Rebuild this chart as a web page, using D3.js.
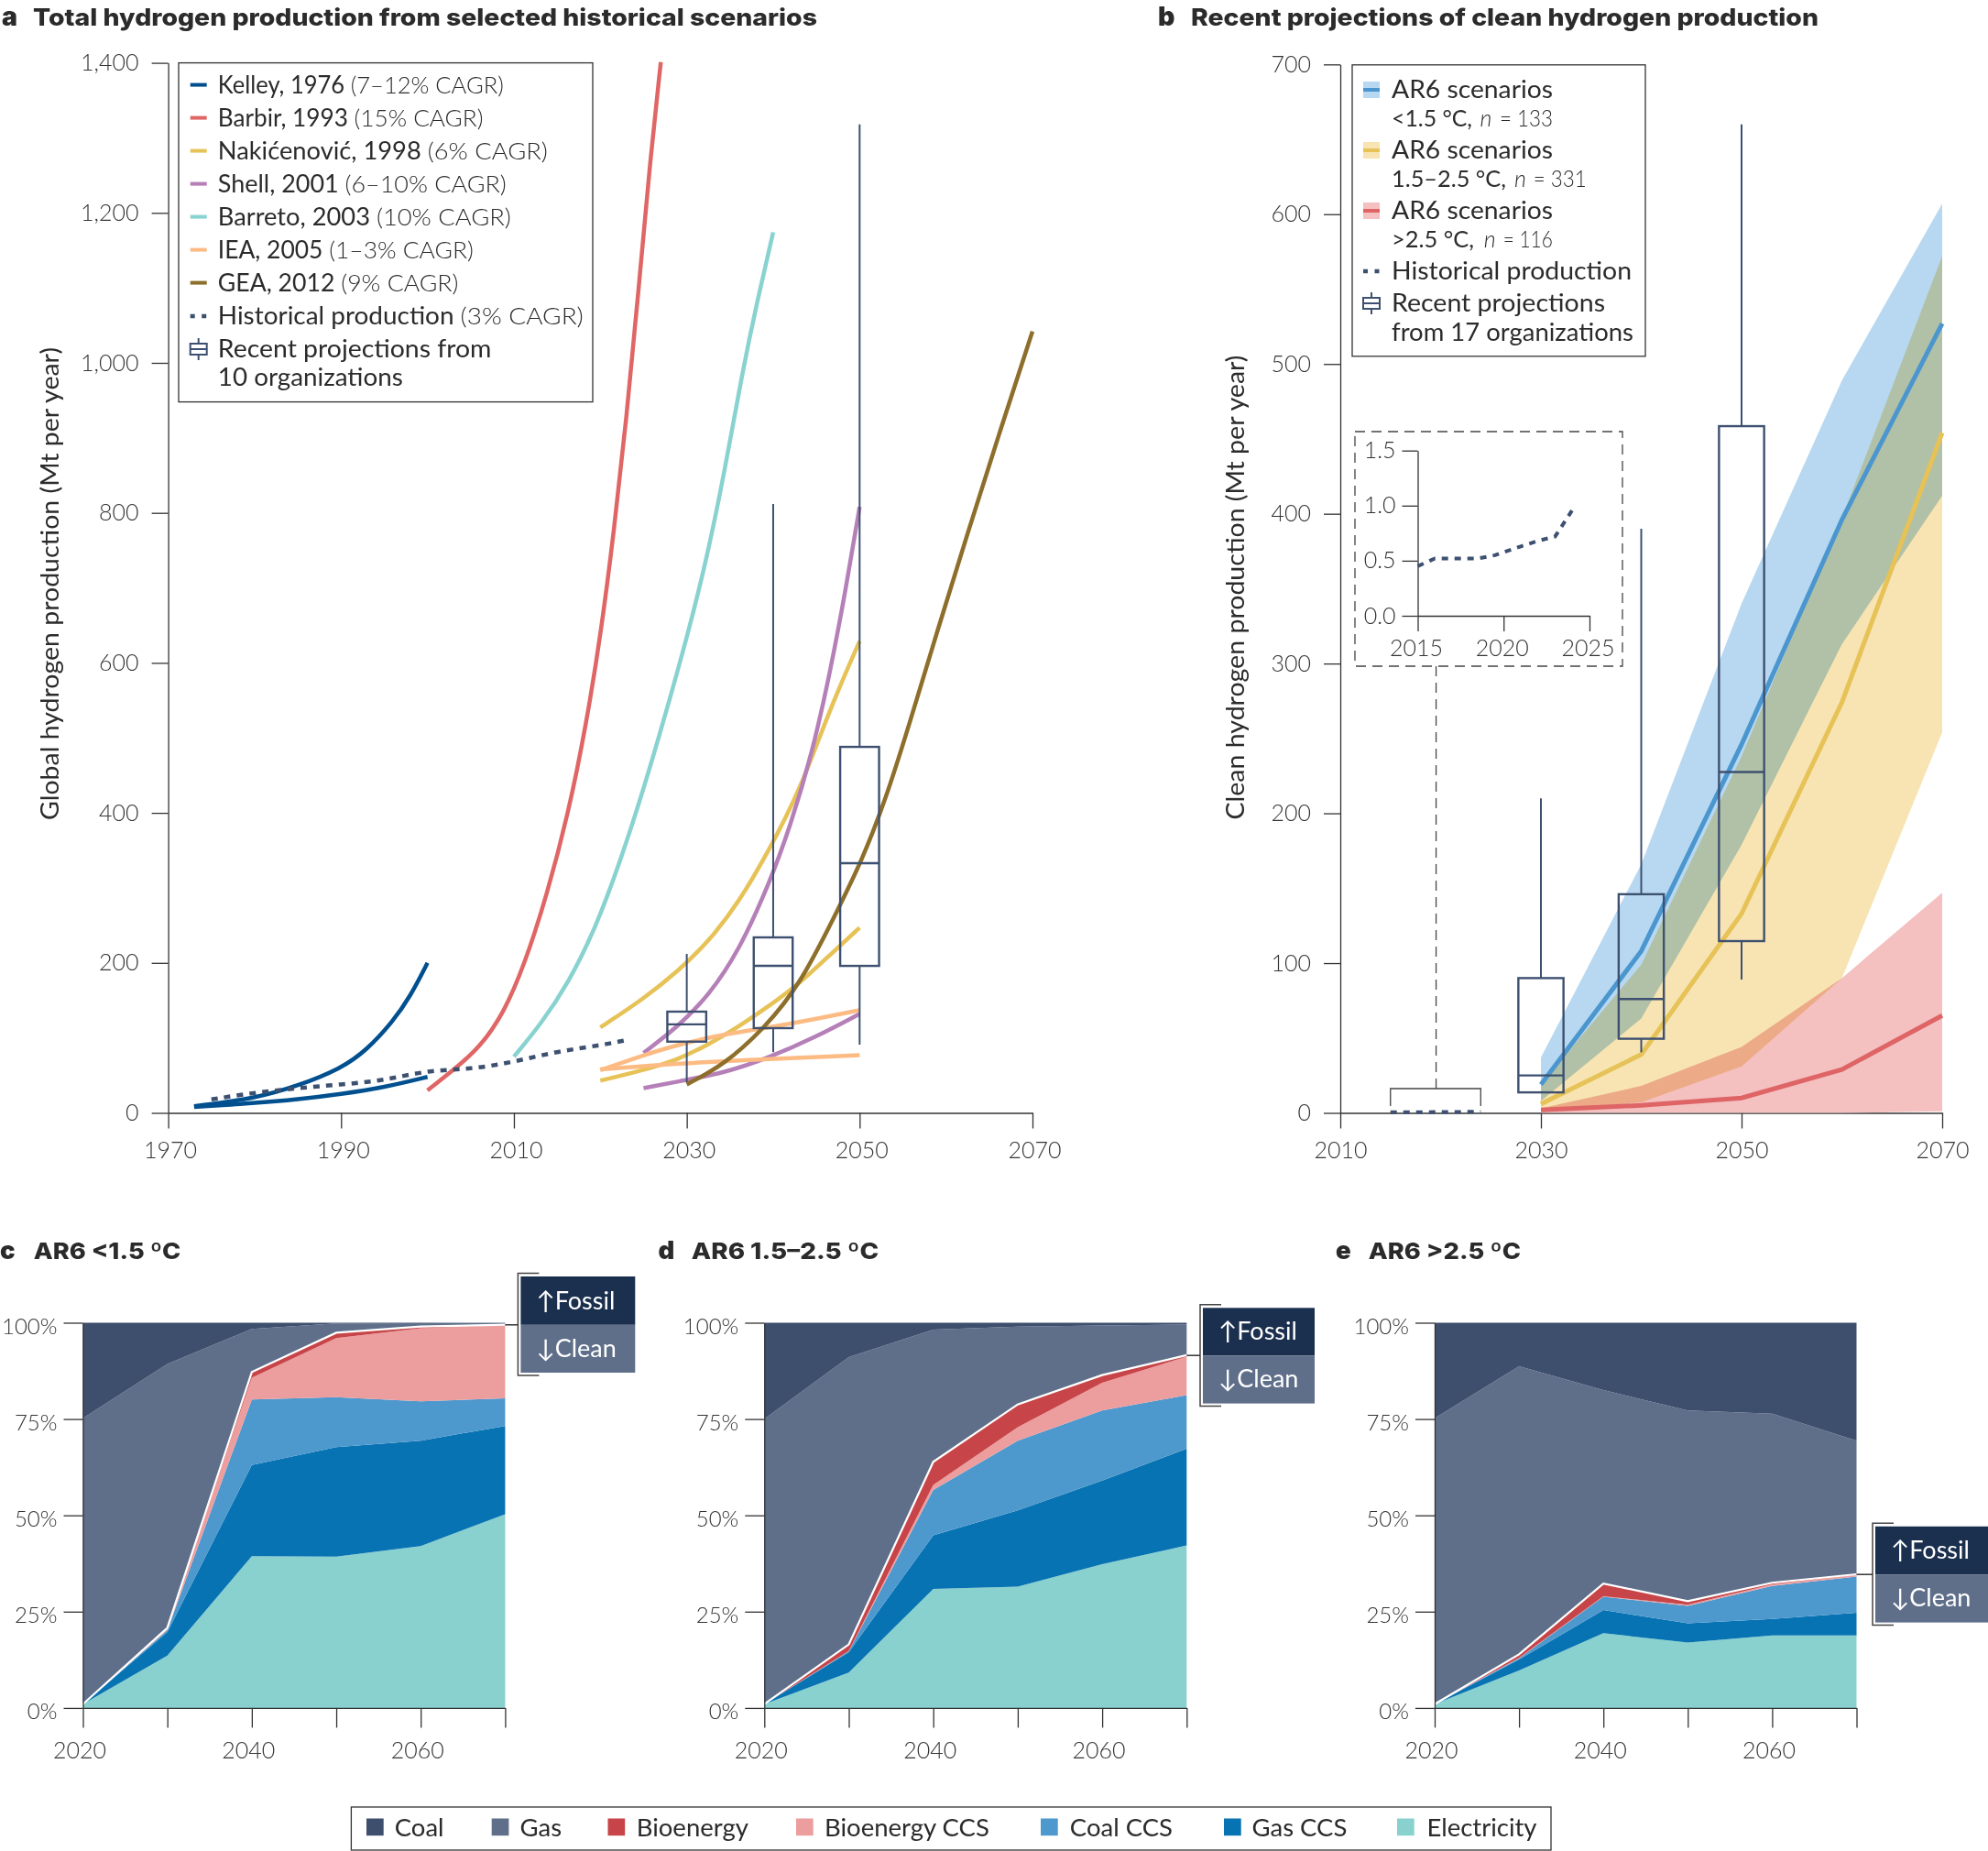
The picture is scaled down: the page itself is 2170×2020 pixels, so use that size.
<!DOCTYPE html>
<html lang="en">
<head>
<meta charset="utf-8">
<title>Hydrogen production scenarios</title>
<script src="https://d3js.org/d3.v7.min.js"></script>
<style>
  html, body { margin: 0; padding: 0; background: #fff; }
  svg { display: block; }
  text { font-family: Lato, "Noto Sans", sans-serif; fill: #2b2b2b; }
  .tick text { font-weight: 300; font-size: 25px; fill: #333; }
  .tick line, .domain { stroke: #333; stroke-width: 1.3; }
  .title { font-family: Inter, sans-serif; font-weight: 800; }
</style>
</head>
<body>
<script>
// panel a, [year, Mt per year]
var kelleyHigh = [[1973,9],[1980,19],[1985,36],[1990,59],[1993,84],[1996,122],[1998,155],[2000,200]];
var kelleyLow = [[1973,8],[1980,13],[1985,18],[1990,25],[1995,34],[2000,48]];
var barbir = [[2000,30],[2003.5,62],[2006,87],[2008.8,132],[2011.3,200],[2013.8,290],[2016.3,399],[2018.4,520],[2020.1,642],[2021.6,778],[2023,923],[2024.4,1094],[2025.8,1275],[2027,1401]];
var nakHigh = [[2020,114],[2025,152],[2029,189],[2032.5,228],[2036,280],[2039.6,352],[2043.1,430],[2046.6,540],[2050,629]];
var nakLow = [[2020,43],[2025,57],[2029,71],[2032.5,91],[2036,115],[2039.6,143],[2043.1,173],[2046.6,211],[2050,247]];
var shellHigh = [[2025,80],[2029,115],[2032.5,156],[2036,215],[2039.6,307],[2042,383],[2044.5,479],[2046.6,588],[2048.4,698],[2050,808]];
var shellLow = [[2025,33],[2029,42],[2034.3,53],[2039.6,74],[2044.9,101],[2050,132]];
var barreto = [[2010,75],[2013.1,118],[2016.3,173],[2019.4,245],[2022.3,335],[2025.1,435],[2027.6,534],[2030,633],[2032.2,733],[2034.3,850],[2036.4,986],[2038.2,1085],[2040,1174]];
var ieaHigh = [[2020,57],[2025,77],[2029,91],[2034.3,105],[2039.6,114],[2044.9,125],[2050,137]];
var ieaLow = [[2020,58],[2029,66],[2039.6,72],[2050,77]];
var gea = [[2030,38],[2034.3,64],[2038.9,112],[2043.1,170],[2047.7,276],[2050.2,335],[2053,417],[2055.8,520],[2059,643],[2062.5,773],[2066.1,904],[2070,1042]];
var historical = [[1975,18],[1980,27],[1985,33],[1990,38],[1995,43],[2000,57],[2005,58],[2010,68],[2015,82],[2020,90],[2023,97]];
// year, whisker low, q1, median, q3, whisker high
var boxesA = [[2030,41,95,118,135,212],[2040,81,113,196,234,812],[2050,91,196,333,488,1318]];

// panel b
var bandYears = [2030,2040,2050,2060,2070];
var blueUpper = [37,166,340,489,607];
var blueLower = [8,63,179,313,412];
var blueMedian = [19,108,246,396,527];
var yellowUpper = [19,99,238,397,572];
var yellowLower = [2,7,31,90,254];
var yellowMedian = [6,39,133,274,454];
var redUpper = [3,18,44,90,147];
var redLower = [0,0,0,0,1];
var redMedian = [2,5,10,29,65];
var boxesB = [[2030,13.7,13.7,25,90,210],[2040,40.5,49.5,76,146,390],[2050,89,114.7,227.6,458.5,660]];
var recentYears = [2015,2016,2018.5,2019.5,2021,2022,2023,2024];
var recentValues = [0.45,0.52,0.52,0.55,0.63,0.68,0.72,0.96];

// panels c, d, e: share of production, bottom layer first
var stackYears = [2020,2030,2040,2050,2060,2070];
var techs = ["Electricity","Gas CCS","Coal CCS","Bioenergy CCS","Bioenergy","Gas","Coal"];
var cShares = [
  [1,13.6,39.4,39.3,42,50.3],
  [0,6.1,23.7,28.4,27.4,22.9],
  [0,0.5,17,13,10.2,7.2],
  [0,0.5,5.6,15.3,19,18.9],
  [0,0.1,1.5,1.4,0.4,0.2],
  [74.2,68.5,11.2,2.4,0.9,0.5],
  [24.8,10.7,1.6,0.2,0.1,0]];
var dShares = [
  [1,9.2,30.9,31.5,37.3,42.2],
  [0,5.3,13.9,19.8,21.7,25.1],
  [0,0.2,11.8,18.1,18.2,13.9],
  [0,0.1,1.3,3.5,7.2,10],
  [0,1.7,6,5.9,2,0.4],
  [74,74.6,34.3,20.2,12.9,7.9],
  [25,8.9,1.8,1,0.7,0.5]];
var eShares = [
  [1,9.7,19.4,17,18.8,18.8],
  [0,2.9,6,5,4.3,5.9],
  [0,0.3,3.5,4.5,8.6,9.4],
  [0,0.1,0.1,0.3,0.4,0.4],
  [0,0.9,3.3,0.9,0.4,0.2],
  [74.2,74.8,50.2,49.5,43.9,34.7],
  [24.8,11.3,17.5,22.8,23.6,30.6]];

var techColors = {"Coal":"#3e4f6d","Gas":"#5f6f8a","Bioenergy":"#c74548","Bioenergy CCS":"#ec9d9e","Coal CCS":"#4d98cd","Gas CCS":"#0873b3","Electricity":"#88d1cf"};
var dark = "#3e5070";

var svg = d3.select("body").append("svg").attr("width", 2170).attr("height", 2020);

function addText(x, y, str, size, weight, anchor) {
  return svg.append("text").attr("x", x).attr("y", y).text(str)
    .attr("font-size", size).attr("font-weight", weight || 400).attr("text-anchor", anchor || "start");
}
function fit(sel, len) {
  return sel.attr("textLength", len).attr("lengthAdjust", "spacingAndGlyphs");
}
function title(letter, lx, tx, tw, y, str, size) {
  addText(lx, y, letter, size + 2.5).attr("class", "title").style("font-weight", 900);
  fit(addText(tx, y, str, size).attr("class", "title"), tw);
}
function yLabel(x, cy, len, str) {
  fit(svg.append("text").attr("transform", "translate(" + x + "," + cy + ") rotate(-90)")
    .attr("text-anchor", "middle").attr("font-size", 26).text(str), len);
}
function drawBoxes(data, x, y) {
  var g = svg.append("g").attr("stroke", dark).attr("fill", "none");
  data.forEach(function(b) {
    g.append("line").attr("x1", x(b[0])).attr("x2", x(b[0])).attr("y1", y(b[4])).attr("y2", y(b[5])).attr("stroke-width", 2);
    g.append("line").attr("x1", x(b[0])).attr("x2", x(b[0])).attr("y1", y(b[2])).attr("y2", y(b[1])).attr("stroke-width", 2);
    g.append("rect").attr("x", x(b[0] - 2.25)).attr("width", x(b[0] + 2.25) - x(b[0] - 2.25))
      .attr("y", y(b[4])).attr("height", y(b[2]) - y(b[4])).attr("stroke-width", 2.4);
    g.append("line").attr("x1", x(b[0] - 2.25)).attr("x2", x(b[0] + 2.25)).attr("y1", y(b[3])).attr("y2", y(b[3])).attr("stroke-width", 2.4);
  });
}
function boxSwatch(cx, cy) {
  var g = svg.append("g").attr("stroke", dark).attr("fill", "none").attr("stroke-width", 2);
  g.append("line").attr("x1", cx).attr("x2", cx).attr("y1", cy - 12).attr("y2", cy + 12);
  g.append("rect").attr("x", cx - 9).attr("y", cy - 6).attr("width", 18).attr("height", 12).attr("fill", "#fff");
  g.append("line").attr("x1", cx - 9).attr("x2", cx + 9).attr("y1", cy).attr("y2", cy);
}

// ---------- panel a
title("a", 2, 36, 856, 28, "Total hydrogen production from selected historical scenarios", 26);
yLabel(64, 637, 516, "Global hydrogen production (Mt per year)");

var xA = d3.scaleLinear().domain([1970, 2070]).range([183.6, 1127]);
var yA = d3.scaleLinear().domain([0, 1400]).range([1214.5, 68.6]);
var lineA = d3.line().x(function(d) { return xA(d[0]); }).y(function(d) { return yA(d[1]); }).curve(d3.curveBasis);

svg.append("g").attr("transform", "translate(183.6,0)")
  .call(d3.axisLeft(yA).tickValues(d3.range(0, 1401, 200)).tickSize(18).tickPadding(14).tickSizeOuter(0).tickFormat(d3.format(",")));
var xgA = svg.append("g").attr("transform", "translate(0,1214.5)")
  .call(d3.axisBottom(xA).tickValues(d3.range(1970, 2071, 20)).tickSize(17).tickPadding(15).tickSizeOuter(0).tickFormat(d3.format("d")));
xgA.selectAll(".tick text").attr("dx", 2);

var linesA = [
  [kelleyHigh,"#004f8f"],[kelleyLow,"#004f8f"],[barbir,"#e06666"],[nakHigh,"#e6c257"],[nakLow,"#e6c257"],
  [shellHigh,"#b57fb8"],[shellLow,"#b57fb8"],[barreto,"#88d2cf"],[ieaHigh,"#fdbb84"],[ieaLow,"#fdbb84"],[gea,"#8d6e2b"]];
linesA.forEach(function(l) {
  svg.append("path").attr("d", lineA(l[0])).attr("fill", "none").attr("stroke", l[1]).attr("stroke-width", 4.5);
});
svg.append("path").attr("d", lineA(historical)).attr("fill", "none").attr("stroke", dark).attr("stroke-width", 4.5).attr("stroke-dasharray", "7 7");
drawBoxes(boxesA, xA, yA);

svg.append("rect").attr("x", 195).attr("y", 68.6).attr("width", 452).attr("height", 370).attr("fill", "#fff").attr("stroke", "#333").attr("stroke-width", 1.3);
var legendA = [
  ["Kelley, 1976", "(7–12% CAGR)", "#004f8f", 312],
  ["Barbir, 1993", "(15% CAGR)", "#e06666", 289.7],
  ["Nakićenović, 1998", "(6% CAGR)", "#e6c257", 360],
  ["Shell, 2001", "(6–10% CAGR)", "#b57fb8", 315],
  ["Barreto, 2003", "(10% CAGR)", "#88d2cf", 320],
  ["IEA, 2005", "(1–3% CAGR)", "#fdbb84", 279],
  ["GEA, 2012", "(9% CAGR)", "#8d6e2b", 262.6]];
legendA.forEach(function(d, i) {
  var cy = 92.6 + i * 36;
  svg.append("rect").attr("x", 207.7).attr("y", cy - 2).attr("width", 18).attr("height", 4).attr("fill", d[2]);
  var t = fit(addText(237.8, cy + 9, d[0] + " ", 26), d[3]);
  t.append("tspan").attr("font-weight", 300).text(d[1]);
});
svg.append("line").attr("x1", 207.7).attr("x2", 225.7).attr("y1", 345).attr("y2", 345).attr("stroke", dark).attr("stroke-width", 4.5).attr("stroke-dasharray", "5 7.5");
fit(addText(237.8, 354, "Historical production ", 26), 399).append("tspan").attr("font-weight", 300).text("(3% CAGR)");
boxSwatch(216.7, 381);
fit(addText(237.8, 390, "Recent projections from", 26), 298.7);
fit(addText(237.8, 421, "10 organizations", 26), 202);

// ---------- panel b
title("b", 1264, 1300, 685, 28, "Recent projections of clean hydrogen production", 26);
yLabel(1358, 641, 507, "Clean hydrogen production (Mt per year)");

var xB = d3.scaleLinear().domain([2010, 2070]).range([1463, 2120]);
var yB = d3.scaleLinear().domain([0, 700]).range([1214.5, 70.3]);

svg.append("g").attr("transform", "translate(1463,0)")
  .call(d3.axisLeft(yB).tickValues(d3.range(0, 701, 100)).tickSize(18).tickPadding(14).tickSizeOuter(0));
svg.append("g").attr("transform", "translate(0,1214.5)")
  .call(d3.axisBottom(xB).tickValues([2010, 2030, 2050, 2070]).tickSize(17).tickPadding(15).tickSizeOuter(0).tickFormat(d3.format("d")));

var bandG = svg.append("g").style("isolation", "isolate");
[[blueUpper, blueLower, "#b7d8f0"], [yellowUpper, yellowLower, "#f7e4b2"], [redUpper, redLower, "#f4c0c0"]].forEach(function(b) {
  var area = d3.area().x(function(d) { return xB(d); })
    .y1(function(d, i) { return yB(b[0][i]); }).y0(function(d, i) { return yB(b[1][i]); });
  bandG.append("path").attr("d", area(bandYears)).attr("fill", b[2]).style("mix-blend-mode", "multiply");
});
[[blueMedian, "#4b96cf"], [yellowMedian, "#e6c257"], [redMedian, "#de6466"]].forEach(function(m) {
  var line = d3.line().x(function(d) { return xB(d); }).y(function(d, i) { return yB(m[0][i]); });
  svg.append("path").attr("d", line(bandYears)).attr("fill", "none").attr("stroke", m[1]).attr("stroke-width", 5);
});
drawBoxes(boxesB, xB, yB);

// historical run along the zero line, bracket up to the inset
var lineRecent = d3.line().x(function(d) { return xB(d); }).y(function(d, i) { return yB(recentValues[i]); });
svg.append("path").attr("d", lineRecent(recentYears)).attr("fill", "none").attr("stroke", dark).attr("stroke-width", 4).attr("stroke-dasharray", "7 7");
svg.append("path").attr("d", "M" + xB(2015) + ",1207V1188H" + xB(2024) + "V1207").attr("fill", "none").attr("stroke", "#444").attr("stroke-width", 1.3);
svg.append("line").attr("x1", xB(2019.55)).attr("x2", xB(2019.55)).attr("y1", 727).attr("y2", 1188).attr("stroke", "#444").attr("stroke-width", 1.3).attr("stroke-dasharray", "11 7");

svg.append("rect").attr("x", 1479).attr("y", 471).attr("width", 292).attr("height", 256).attr("fill", "none").attr("stroke", "#444").attr("stroke-width", 1.3).attr("stroke-dasharray", "11 7");
var xIn = d3.scaleLinear().domain([2015, 2025]).range([1547.5, 1735]);
var yIn = d3.scaleLinear().domain([0, 1.5]).range([672, 491.7]);
svg.append("g").attr("transform", "translate(1547.5,0)")
  .call(d3.axisLeft(yIn).tickValues([0, 0.5, 1, 1.5]).tickSize(17).tickPadding(7).tickSizeOuter(0).tickFormat(d3.format(".1f")));
var xgIn = svg.append("g").attr("transform", "translate(0,672)")
  .call(d3.axisBottom(xIn).tickValues([2015, 2020, 2025]).tickSize(17).tickPadding(9).tickSizeOuter(0).tickFormat(d3.format("d")));
xgIn.selectAll(".tick text").attr("dx", -2);
var lineIn = d3.line().x(function(d) { return xIn(d); }).y(function(d, i) { return yIn(recentValues[i]); });
svg.append("path").attr("d", lineIn(recentYears)).attr("fill", "none").attr("stroke", dark).attr("stroke-width", 4).attr("stroke-dasharray", "7 7");

svg.append("rect").attr("x", 1476).attr("y", 70.8).attr("width", 320).attr("height", 318).attr("fill", "#fff").attr("stroke", "#333").attr("stroke-width", 1.3);
// label, n count, colours, row y, then x and width of each piece on the second line
var legendB = [
  ["<1.5 °C,", "= 133", "#b7d8f0", "#4b96cf", 98, 88, 1615.6, 1637, 58],
  ["1.5–2.5 °C,", "= 331", "#f7e4b2", "#e6c257", 164, 125, 1653, 1673.7, 58],
  [">2.5 °C,", "= 116", "#f4c0c0", "#de6466", 230, 90, 1619.7, 1640.8, 54]];
legendB.forEach(function(d) {
  svg.append("rect").attr("x", 1488).attr("y", d[4] - 9).attr("width", 18).attr("height", 18).attr("fill", d[2]);
  svg.append("rect").attr("x", 1488).attr("y", d[4] - 2).attr("width", 18).attr("height", 4).attr("fill", d[3]);
  fit(addText(1519, d[4] + 9, "AR6 scenarios", 26), 176);
  fit(addText(1519, d[4] + 40, d[0], 25), d[5]);
  addText(d[6], d[4] + 40, "n", 25, 300).attr("font-style", "italic");
  fit(addText(d[7], d[4] + 40, d[1], 25, 300), d[8]);
});
svg.append("line").attr("x1", 1488).attr("x2", 1506).attr("y1", 296).attr("y2", 296).attr("stroke", dark).attr("stroke-width", 4.5).attr("stroke-dasharray", "5 7.5");
fit(addText(1519, 305, "Historical production", 26), 262);
boxSwatch(1497, 331);
fit(addText(1519, 340, "Recent projections", 26), 233);
fit(addText(1519, 372, "from 17 organizations", 26), 264);

// ---------- panels c, d, e
var stackPanels = [
  {shares: cShares, left: 90.5, right: 551.4, letter: "c", lx: 0, tx: 36.7, tw: 160.7, name: "AR6 <1.5 ºC", tag: [568.4, 693.3, 1393, 1445.8, 1498]},
  {shares: dShares, left: 834.3, right: 1295.3, letter: "d", lx: 718.4, tx: 754.8, tw: 204.5, name: "AR6 1.5–2.5 ºC", tag: [1313, 1435, 1427.3, 1479.2, 1531.6]},
  {shares: eShares, left: 1566, right: 2026.5, letter: "e", lx: 1458, tx: 1493.7, tw: 166.3, name: "AR6 >2.5 ºC", tag: [2047, 2170, 1665.8, 1718.2, 1770.6]}];

stackPanels.forEach(function(p) {
  title(p.letter, p.lx, p.tx, p.tw, 1374, p.name, 25);

  var x = d3.scaleLinear().domain([2020, 2070]).range([p.left, p.right]);
  var y = d3.scaleLinear().domain([0, 100]).range([1863.9, 1443.5]);
  var rows = stackYears.map(function(yr, i) {
    var row = {year: yr};
    techs.forEach(function(t, k) { row[t] = p.shares[k][i]; });
    return row;
  });
  var layers = d3.stack().keys(techs)(rows);
  var area = d3.area().x(function(d) { return x(d.data.year); }).y0(function(d) { return y(d[0]); }).y1(function(d) { return y(d[1]); });

  svg.append("g").selectAll("path").data(layers).join("path")
    .attr("d", area).attr("fill", function(d) { return techColors[d.key]; });

  // white edge between clean and fossil
  var edge = d3.line().x(function(d) { return x(d.data.year); }).y(function(d) { return y(d[1]); });
  svg.append("path").attr("d", edge(layers[4])).attr("fill", "none").attr("stroke", "#fff").attr("stroke-width", 2.2);

  var yg = svg.append("g").attr("transform", "translate(" + p.left + ",0)")
    .call(d3.axisLeft(y).tickValues([0, 25, 50, 75, 100]).tickSize(21).tickPadding(7).tickSizeOuter(0).tickFormat(function(d) { return d + "%"; }));
  yg.selectAll(".tick text").attr("y", 4).style("font-size", "24px");
  var xg = svg.append("g").attr("transform", "translate(0,1863.9)")
    .call(d3.axisBottom(x).tickValues(stackYears).tickSize(21.5).tickPadding(16).tickSizeOuter(0).tickFormat(function(d) { return d % 20 == 0 ? d : ""; }));
  xg.selectAll(".tick text").attr("dx", -4);

  // fossil / clean tag
  var t = p.tag;
  svg.append("rect").attr("x", t[0]).attr("y", t[2]).attr("width", t[1] - t[0]).attr("height", t[3] - t[2]).attr("fill", "#1b2f4e");
  svg.append("rect").attr("x", t[0]).attr("y", t[3]).attr("width", t[1] - t[0]).attr("height", t[4] - t[3]).attr("fill", "#5f6f8a");
  svg.append("path").attr("d", "M" + (t[0] + 20) + "," + (t[2] - 3.5) + "H" + (t[0] - 3) + "V" + (t[4] + 3) + "H" + (t[0] + 20))
    .attr("fill", "none").attr("stroke", "#444").attr("stroke-width", 1.5);
  svg.append("line").attr("x1", p.right).attr("x2", t[0] - 3).attr("y1", t[3]).attr("y2", t[3]).attr("stroke", "#333").attr("stroke-width", 1.5);
  addText(t[0] + 17, t[3] - 17, "↑Fossil", 27).style("fill", "#fff");
  addText(t[0] + 17, t[3] + 35, "↓Clean", 27).style("fill", "#fff");
});

// ---------- shared legend
svg.append("rect").attr("x", 383.4).attr("y", 1972).attr("width", 1309.6).attr("height", 47).attr("fill", "#fff").attr("stroke", "#333").attr("stroke-width", 1.3);
var legendOrder = ["Coal","Gas","Bioenergy","Bioenergy CCS","Coal CCS","Gas CCS","Electricity"];
var legendSwatchX = [400,536.7,663.5,869,1136,1336,1525];
var legendTextX = [430.7,567.5,694.7,900,1167.8,1366.5,1557.4];
legendOrder.forEach(function(name, i) {
  svg.append("rect").attr("x", legendSwatchX[i]).attr("y", 1984.5).attr("width", 18.7).attr("height", 18.7).attr("fill", techColors[name]);
  addText(legendTextX[i], 2004, name, 27.5, 400);
});
</script>
</body>
</html>
